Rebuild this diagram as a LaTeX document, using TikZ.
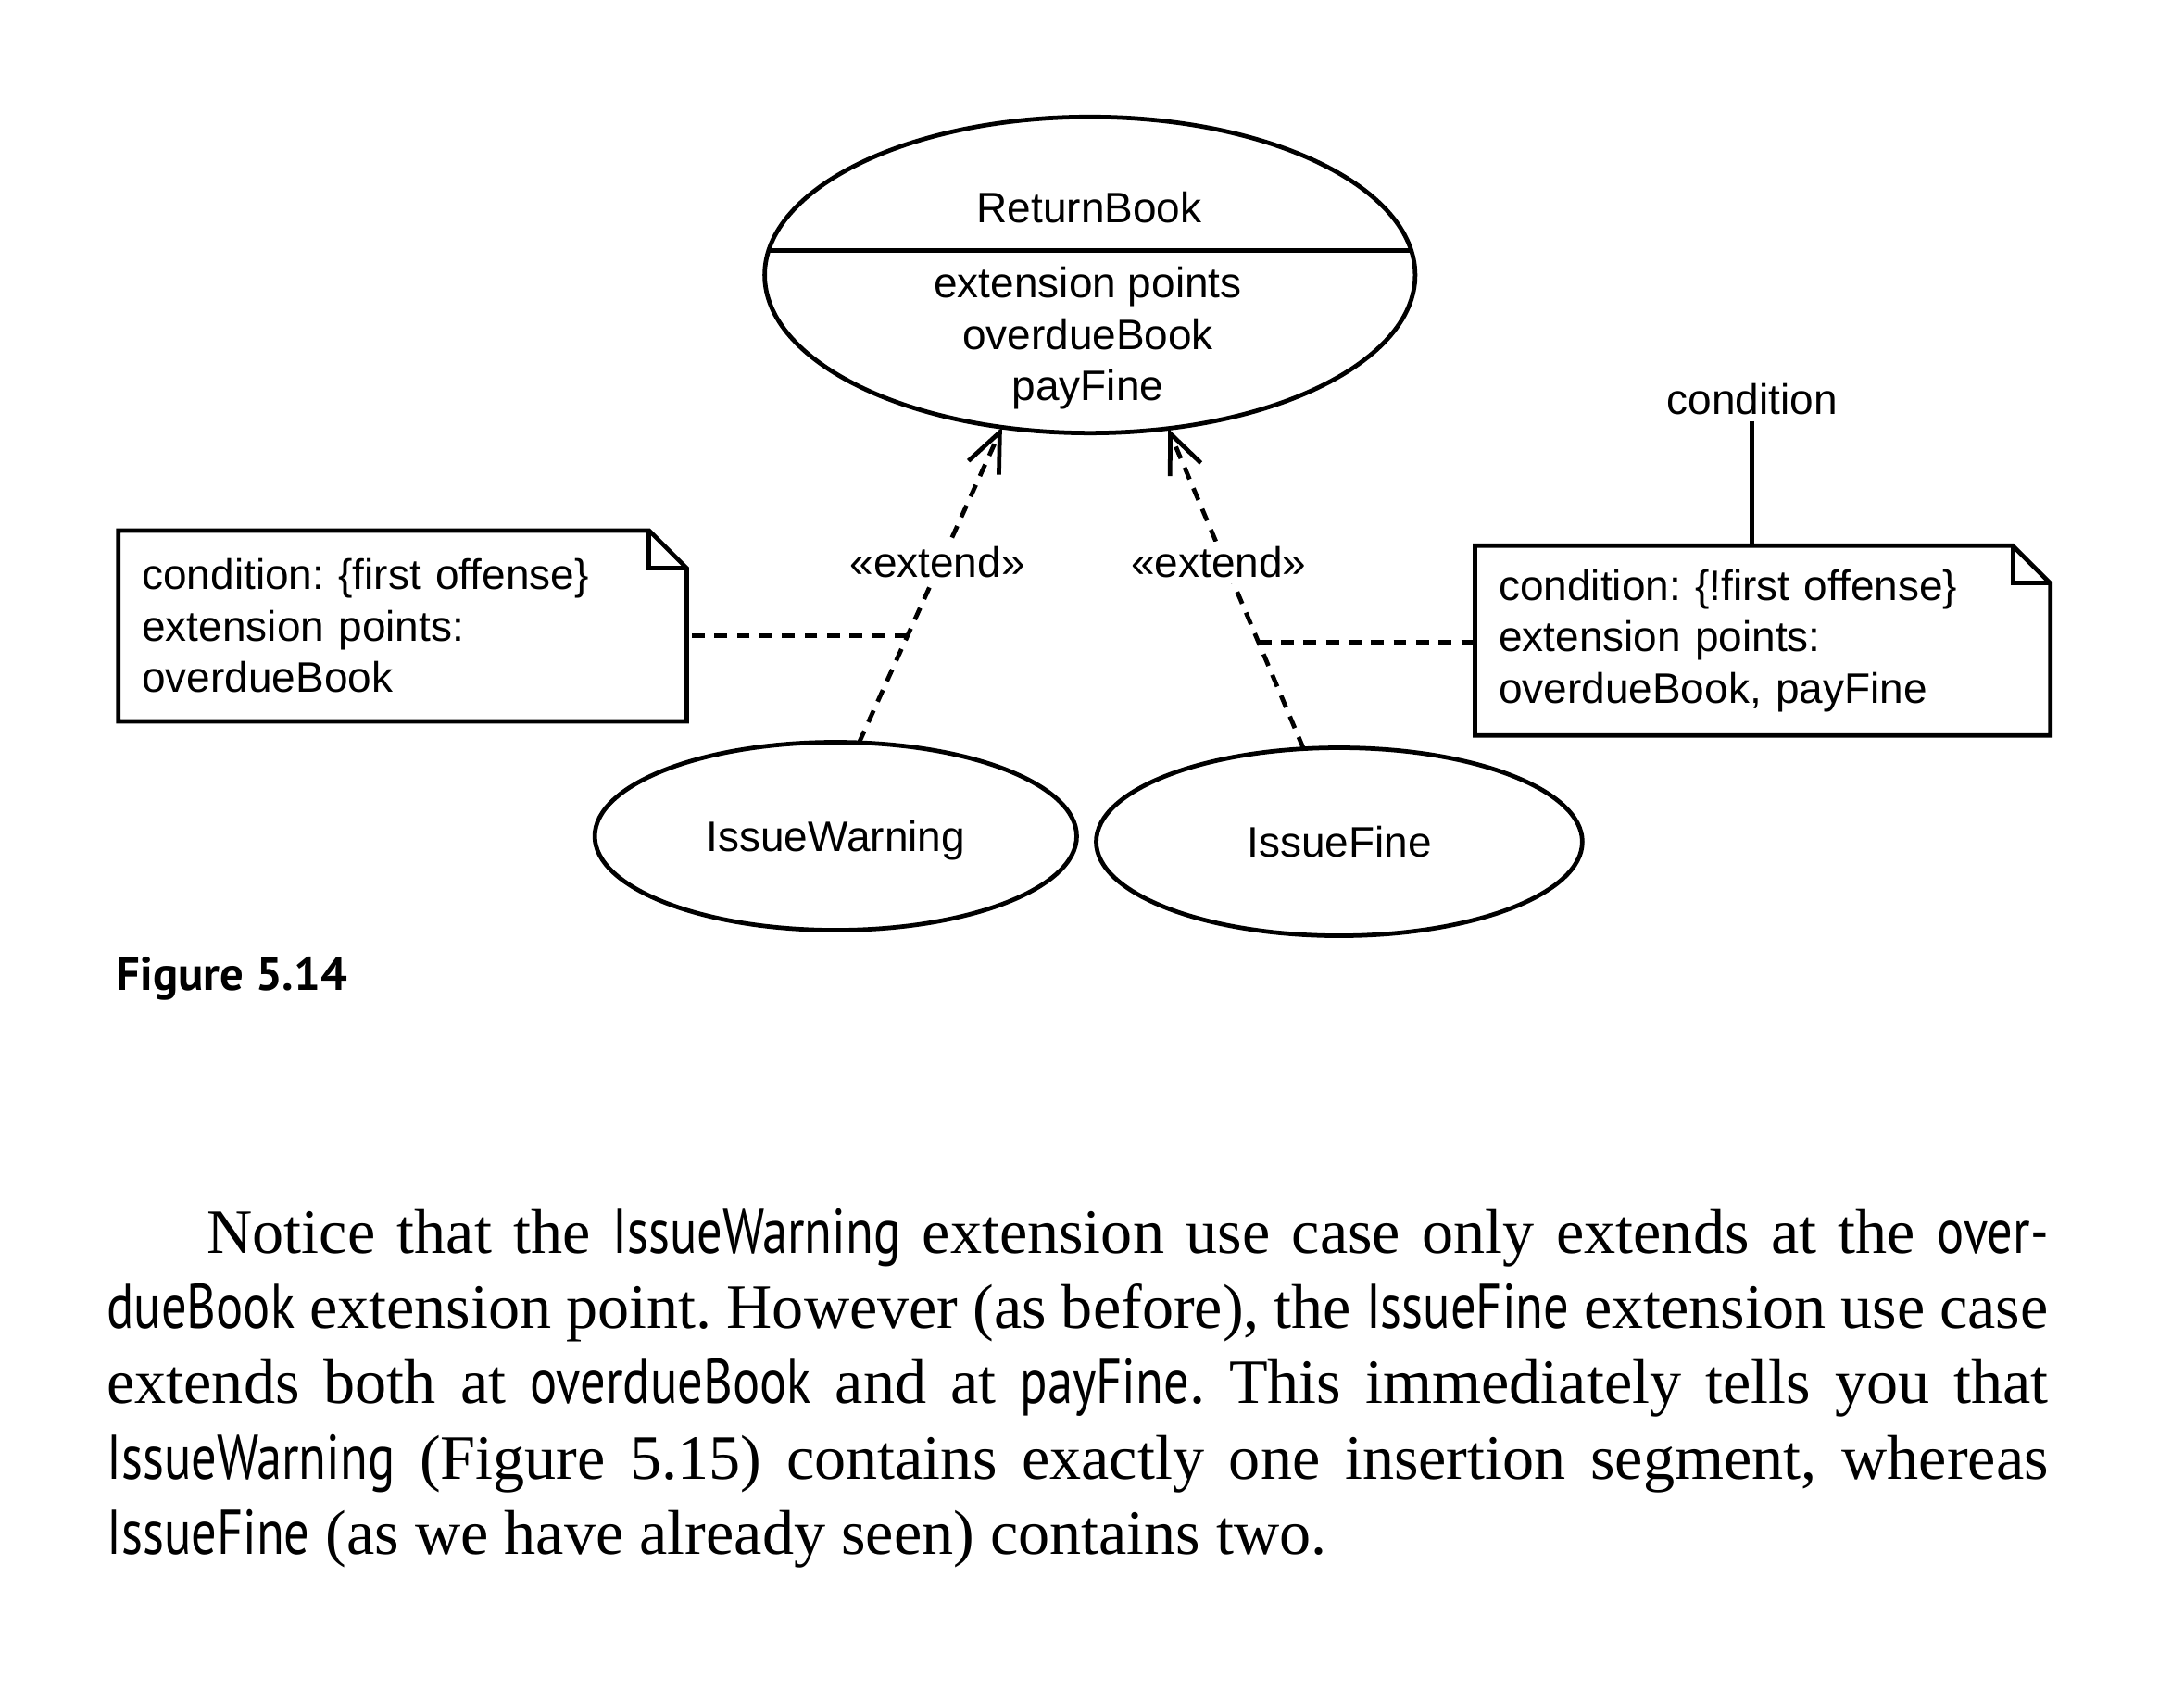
\documentclass[tikz,border=0pt]{standalone}
\usepackage{fontspec}
\setmainfont{Liberation Serif}
\newfontfamily\diagfont{Liberation Sans}
\newfontfamily\codefont[FakeStretch=0.8]{PT Sans}
\newfontfamily\figfont{PT Sans}
\usetikzlibrary{arrows.meta,shapes.geometric,calc}
\frenchspacing
\begin{document}
\begin{tikzpicture}[line/.style = {draw, line width=0.9pt}, dashline/.style = {line width=0.9pt, dash pattern=on 2.6pt off 2pt}, extend/.style = {dashline, -{Straight Barb[length=2.8mm,width=2.4mm]}}, usecase/.style = {line, ellipse, inner sep=0pt, outer sep=0pt, text height=6.3pt, text depth=0pt, font=\diagfont\fontsize{8.7}{10.5}\selectfont}, label/.style = {font=\diagfont\fontsize{8.7}{10.5}\selectfont, align=center, inner sep=1pt}, notebox/.style = {inner sep=0.17cm, outer sep=0pt, align=left, font=\diagfont\fontsize{8.7}{10.5}\selectfont}]
		\useasboundingbox (0,0) rectangle (15.68,12.22);
		
		\coordinate (rbc) at (7.825,10.245);
		\coordinate (iwc) at (6.00,6.215);
		\coordinate (ifc) at (9.615,6.175);
		\coordinate (nlc) at (2.89,7.725);
		\coordinate (nrc) at (12.655,7.62);
		
		\node[usecase, minimum width=4.67cm, minimum height=2.27cm] (rb) at (rbc) {};
		\node[usecase, minimum width=3.46cm, minimum height=1.35cm] (iw) at (iwc) {IssueWarning};
		\node[usecase, minimum width=3.49cm, minimum height=1.35cm] (if) at (ifc) {IssueFine};
		
		\begin{scope}
			\clip (rbc) ellipse (2.335cm and 1.135cm);
			\draw[line] (5.3,10.42) -- (10.4,10.42);
		\end{scope}
		
		\node[label] (rbname) at (7.82,10.73) {ReturnBook};
		\node[label] (rbpoints) at (7.81,9.79) {extension points\\overdueBook\\payFine};
		
		\node[notebox, text width=3.74cm, minimum width=4.08cm, minimum height=1.37cm] (noteL) at (nlc) {condition: \{first offense\}\\extension points:\\overdueBook};
		\node[notebox, text width=3.79cm, minimum width=4.13cm, minimum height=1.36cm] (noteR) at (nrc) {condition: \{!first offense\}\\extension points:\\overdueBook, payFine};
		
		\draw[line] (noteL.north west) -- ([xshift=-0.27cm]noteL.north east) -- ([yshift=-0.27cm]noteL.north east) -- (noteL.south east) -- (noteL.south west) -- cycle;
		\draw[line] ([xshift=-0.27cm]noteL.north east) |- ([yshift=-0.27cm]noteL.north east);
		\draw[line] (noteR.north west) -- ([xshift=-0.27cm]noteR.north east) -- ([yshift=-0.27cm]noteR.north east) -- (noteR.south east) -- (noteR.south west) -- cycle;
		\draw[line] ([xshift=-0.27cm]noteR.north east) |- ([yshift=-0.27cm]noteR.north east);
		
		\draw[extend] (iw.76) -- (rb.240);
		\draw[extend] (if.111) -- (rb.297);
		
		\node[label, fill=white] (extL) at (6.73,8.18) {«extend»};
		\node[label, fill=white] (extR) at (8.75,8.18) {«extend»};
		
		\coordinate (jl) at ($(iw.76)!0.338!(rb.240)$);
		\coordinate (jr) at ($(if.111)!0.332!(rb.297)$);
		\draw[dashline] (jl) -- (jl -| noteL.east);
		\draw[dashline] (jr) -- (jr -| noteR.west);
		
		\node[label] (cond) at (12.58,9.35) {condition};
		\draw[line] (cond.south) -- (cond.south |- noteR.north);
		
		\node[anchor=west, inner sep=0pt, font=\figfont\bfseries\fontsize{9.6}{11}\selectfont] (fig) at (0.83,5.19) {Figure 5.14};
		
		\node[anchor=north west, inner sep=0pt, text width=13.94cm, align=justify, font=\fontsize{12.9}{15.4}\selectfont] (para) at (0.76,3.55) {\hspace*{0.72cm}Notice that the {\codefont IssueWarning} extension use case only extends at the {\codefont over-}\linebreak {\codefont dueBook} extension point. However (as before), the {\codefont IssueFine} extension use case\linebreak extends both at {\codefont overdueBook} and at {\codefont payFine}. This immediately tells you that\linebreak {\codefont IssueWarning} (Figure 5.15) contains exactly one insertion segment, whereas\linebreak {\codefont IssueFine} (as we have already seen) contains two.};
	\end{tikzpicture}
\end{document}
